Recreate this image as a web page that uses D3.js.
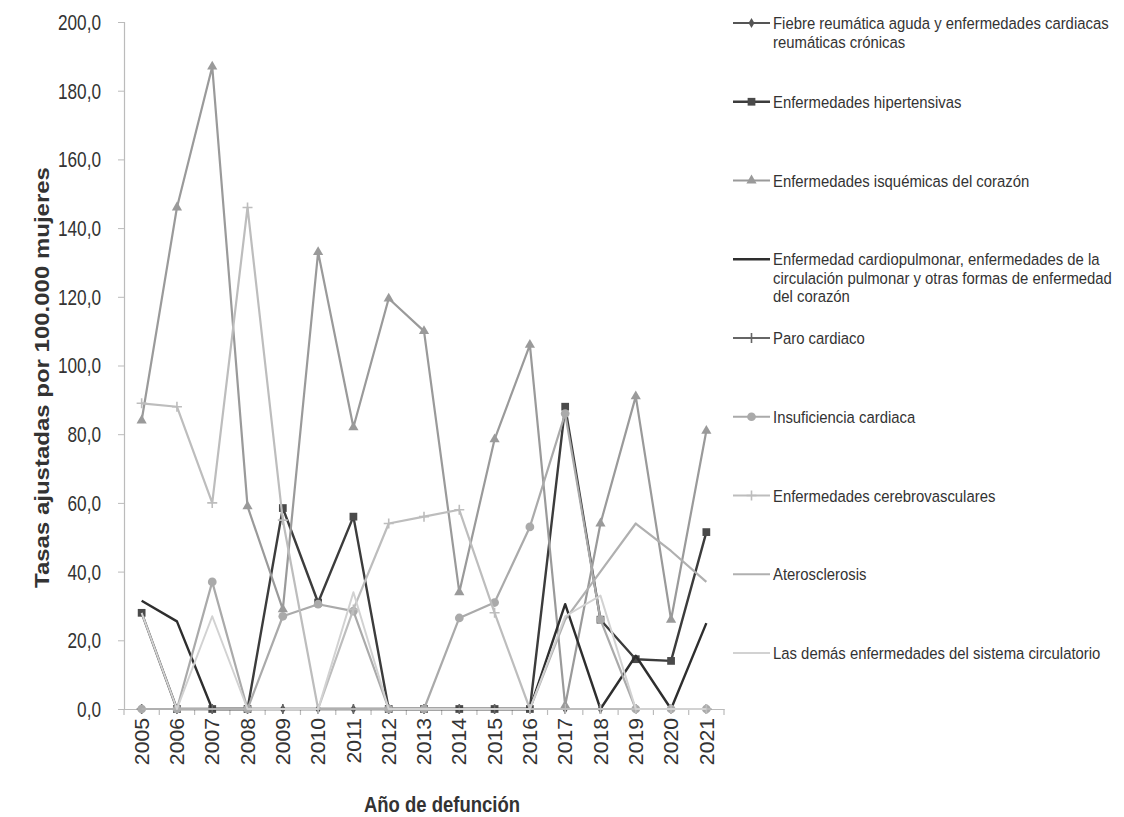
<!DOCTYPE html>
<html><head><meta charset="utf-8">
<script src="https://cdn.jsdelivr.net/npm/d3@7"></script>
<style>
html,body{margin:0;padding:0;background:#fff;}
svg{display:block;}
text{font-family:"Liberation Sans",Arial,sans-serif;}
</style></head>
<body>
<svg id="chart" width="1124" height="817"></svg>
<script>
// ---- data ----
const years = ["2005","2006","2007","2008","2009","2010","2011","2012","2013","2014","2015","2016","2017","2018","2019","2020","2021"];
const yTicks = [0,20,40,60,80,100,120,140,160,180,200];

const fiebre        = [0,0,0,0,0,0,0,0,0,0,0,0,0,0,0,0,0];
const hipertensivas = [28,0,0,0,58.5,31,56,0,0,0,0,0,88,26,14.5,14,51.5];
const isquemicas    = [84,146,187,59,29,133,82,119.5,110,34,78.5,106,1,54,91,26,81];
const cardiopulmonar= [31.5,25.5,0,0,0,0,0,0,0,0,0,0,30.5,0,15.5,0,25];
const paro          = [0,0,0,0,0,0,0,0,0,0,0,0,0,0,0,0,0];
const insuficiencia = [0,0,37,0,27,30.5,28.5,0,0,26.5,31,53,86,26,0,0,0];
const cerebro       = [89,88,60,146,55,0,29,54,56,58,28,0,0,0,0,0,0];
const ateros        = [0,0,0,0,0,0,0,0,0,0,0,0,26,40,54,46,37];
const demas         = [28,0,27,0,0,0,34,0,0,0,0,0,27,33,0,0,0];

const seriesNames = [
  ["Fiebre reumática aguda y enfermedades cardiacas","reumáticas crónicas"],
  ["Enfermedades hipertensivas"],
  ["Enfermedades isquémicas del corazón"],
  ["Enfermedad cardiopulmonar, enfermedades de la","circulación pulmonar y otras formas de enfermedad","del corazón"],
  ["Paro cardiaco"],
  ["Insuficiencia cardiaca"],
  ["Enfermedades cerebrovasculares"],
  ["Aterosclerosis"],
  ["Las demás enfermedades del sistema circulatorio"]
];
const seriesValues = [fiebre,hipertensivas,isquemicas,cardiopulmonar,paro,insuficiencia,cerebro,ateros,demas];

// ---- styles ----
const styles = [
  {color:"#555", width:2,   marker:"diamond", mcolor:"#555", msize:30},
  {color:"#3c3c3c", width:2.4, marker:"square", mcolor:"#4a4a4a", msize:60},
  {color:"#9a9a9a", width:2.2, marker:"triangle", mcolor:"#9a9a9a", msize:45},
  {color:"#2e2e2e", width:2.4, marker:null},
  {color:"#666", width:2,   marker:"cross", mcolor:"#666", msize:40},
  {color:"#aaaaaa", width:2.2, marker:"circle", mcolor:"#aaaaaa", msize:60},
  {color:"#bdbdbd", width:2.2, marker:"cross", mcolor:"#bdbdbd", msize:40},
  {color:"#b0b0b0", width:2.2, marker:null},
  {color:"#d2d2d2", width:2,   marker:null}
];

const svg = d3.select("#chart");
const plot = {left:124, right:724, top:22, bottom:709};

const x = d3.scalePoint().domain(years).range([plot.left, plot.right]).padding(0.5);
const xb = d3.scaleBand().domain(years).range([plot.left, plot.right]);
const y = d3.scaleLinear().domain([0,200]).range([plot.bottom, plot.top]);

const fmt = v => d3.format(".1f")(v).replace(".", ",");

// y axis
const yAxis = svg.append("g").attr("transform",`translate(${plot.left},0)`)
  .call(d3.axisLeft(y).tickValues(yTicks).tickSize(6).tickFormat(""));
yAxis.select(".domain").attr("stroke","#bbb").attr("stroke-width",1.2);
yAxis.selectAll(".tick line").attr("stroke","#bbb");
svg.append("g").selectAll("text").data(yTicks).join("text")
  .attr("transform", d => `translate(101,${y(d)}) scale(0.86,1.1)`)
  .attr("text-anchor","end").attr("dy","0.36em")
  .style("font-size","20px").attr("fill","#333")
  .text(fmt);

// x axis
const xAxis = svg.append("g").attr("transform",`translate(0,${plot.bottom})`)
  .call(d3.axisBottom(x).tickSize(0).tickFormat(""));
xAxis.select(".domain").attr("stroke","#bbb").attr("stroke-width",1.2);
const bounds = years.map(d => xb(d)).concat([xb(years[years.length-1]) + xb.bandwidth()]);
svg.append("g").selectAll("line").data(bounds).join("line")
  .attr("x1",d=>d).attr("x2",d=>d).attr("y1",plot.bottom).attr("y2",plot.bottom+6)
  .attr("stroke","#bbb").attr("stroke-width",1.2);
svg.append("g").selectAll("text").data(years).join("text")
  .attr("transform", d => `translate(${x(d)},${plot.bottom+9}) rotate(-90) scale(1.06,1)`)
  .attr("text-anchor","end").attr("dy","0.36em")
  .style("font-size","20px").attr("fill","#333")
  .text(d=>d);

// titles
svg.append("text").attr("transform",`translate(42,${(plot.top+plot.bottom)/2+12}) rotate(-90) scale(1.2,1)`)
  .attr("text-anchor","middle").attr("dy","0.36em")
  .style("font-size","20px").style("font-weight","bold").attr("fill","#333")
  .text("Tasas ajustadas por 100.000 mujeres");
svg.append("text").attr("transform","translate(442,804) scale(1,1.15)")
  .attr("text-anchor","middle").attr("dy","0.36em")
  .style("font-size","18.5px").style("font-weight","bold").attr("fill","#333")
  .text("Año de defunción");

// markers
function markerPath(type, size){
  const map = {diamond:d3.symbolDiamond, square:d3.symbolSquare, triangle:d3.symbolTriangle, circle:d3.symbolCircle};
  return d3.symbol().type(map[type]).size(size)();
}
function drawMarker(g, st, cx, cy){
  if(!st.marker) return;
  if(st.marker==="cross"){
    g.append("path").attr("d",`M${cx-5},${cy}H${cx+5}M${cx},${cy-5}V${cy+5}`)
      .attr("stroke",st.mcolor).attr("stroke-width",1.6).attr("fill","none");
  } else {
    g.append("path").attr("d",markerPath(st.marker, st.msize))
      .attr("transform",`translate(${cx},${cy})`).attr("fill",st.mcolor);
  }
}

const line = d3.line().x((d,i)=>x(years[i])).y(d=>y(d));
const linesG = svg.append("g");
seriesValues.forEach((vals, si) => {
  const st = styles[si];
  const g = linesG.append("g");
  g.append("path").datum(vals).attr("d", line)
    .attr("fill","none").attr("stroke",st.color).attr("stroke-width",st.width)
    .attr("stroke-linejoin","round");
  vals.forEach((v,i)=> drawMarker(g, st, x(years[i]), y(v)));
});

// legend
const legendTop = 23, legendStep = 78.75, lineH = 18.5;
const lg = svg.append("g");
seriesNames.forEach((lines, si) => {
  const st = styles[si];
  const yy = legendTop + si*legendStep;
  const g = lg.append("g");
  g.append("line").attr("x1",733).attr("x2",770).attr("y1",yy).attr("y2",yy)
    .attr("stroke",st.color).attr("stroke-width",st.width);
  drawMarker(g, st, 751.5, yy);
  lines.forEach((ln, li) => {
    g.append("text")
      .attr("transform",`translate(773,${yy + li*lineH}) scale(0.875,1)`)
      .attr("dy","0.36em")
      .style("font-size","17px").attr("fill","#333")
      .text(ln);
  });
});
</script>
</body></html>
